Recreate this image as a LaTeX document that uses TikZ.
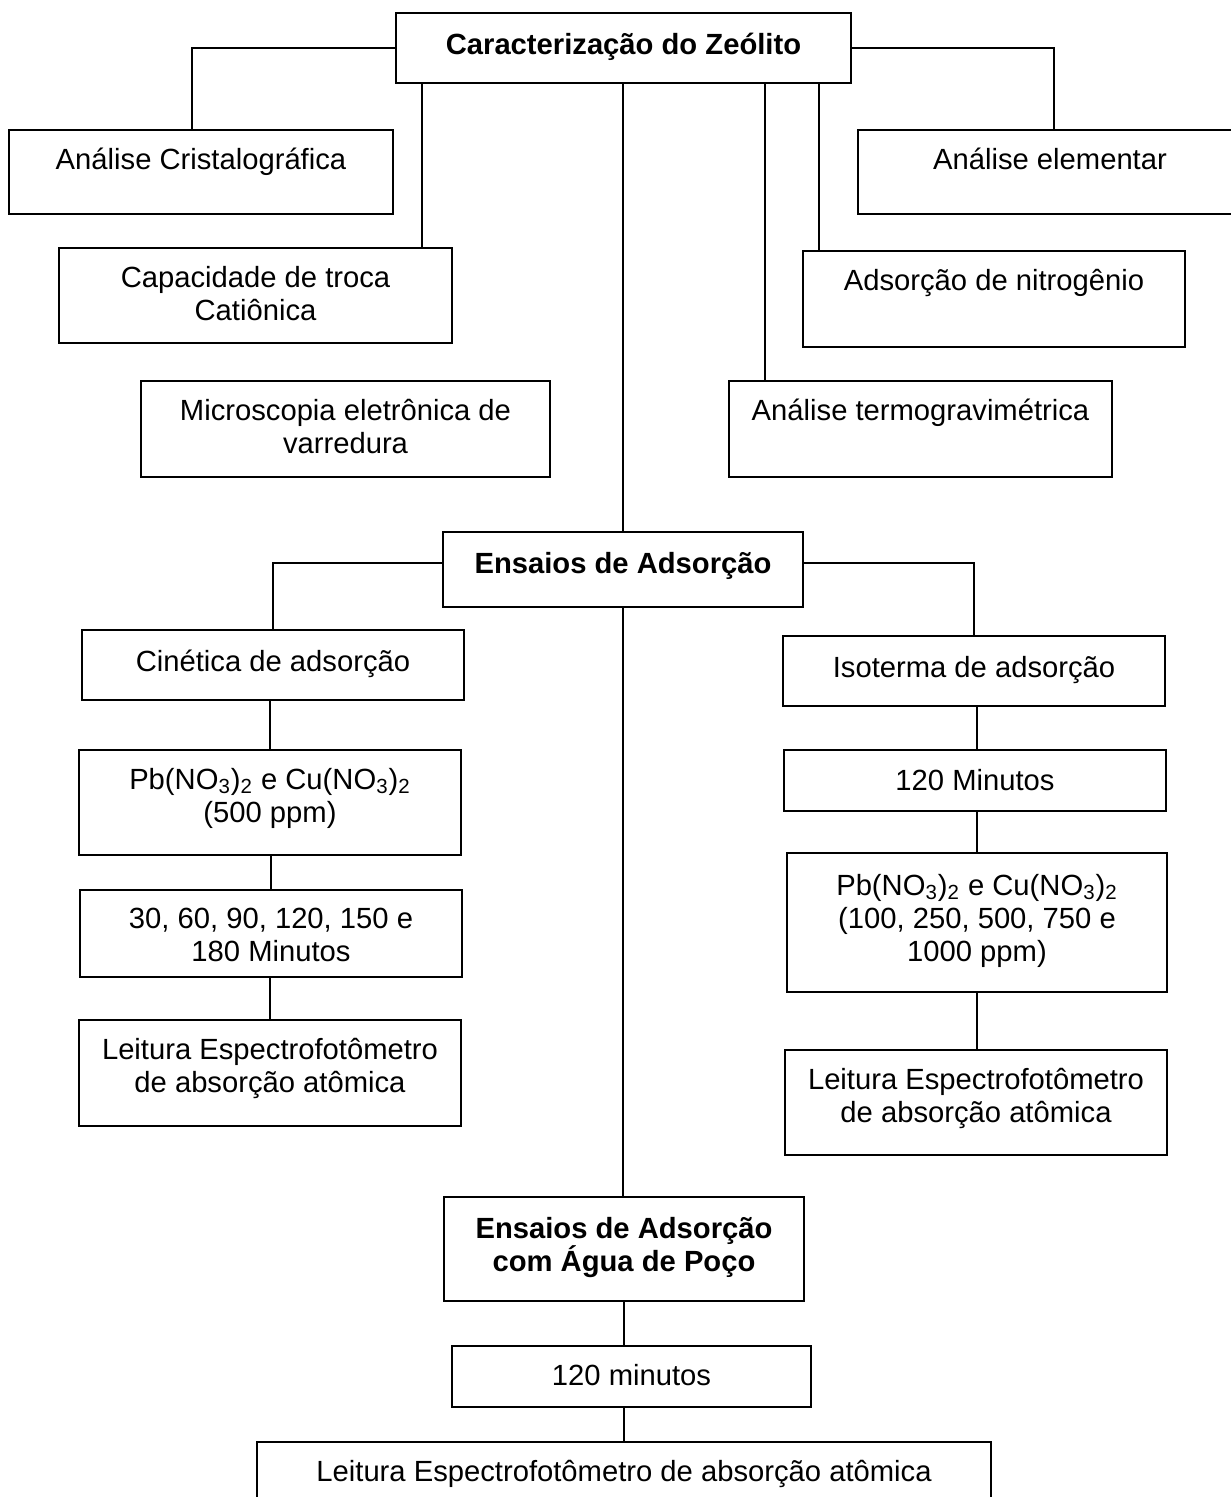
\documentclass[tikz,border=0pt]{standalone}
\usepackage{fontspec}
\setmainfont{Liberation Sans}
\usetikzlibrary{fit}
\begin{document}
\begin{tikzpicture}[x=0.5pt,y=-0.5pt,
	caixa/.style={draw,line width=1pt,inner sep=0pt},
	texto/.style={anchor=north,inner sep=0pt,align=center,font=\fontsize{14.6pt}{16.5pt}\selectfont},
	titulo/.style={texto,font=\fontsize{14.6pt}{16.5pt}\selectfont\bfseries},
	linha/.style={line width=0.8pt}]
	\useasboundingbox (0,0) rectangle (1230,1497);
	% caracterizacao
	\node[caixa,fit={(396,13) (851,83)}] (topo) {};
	\node[titulo] (topo-t) at (623.5,33) {Caracterização do Zeólito};
	\node[caixa,fit={(9,130) (393,214)}] (cris) {};
	\node[texto] (cris-t) at (201,148) {Análise Cristalográfica};
	\node[caixa,fit={(59,248) (452,343)}] (cap) {};
	\node[texto] (cap-t) at (255.5,266) {Capacidade de troca\\Catiônica};
	\node[caixa,fit={(141,381) (550,477)}] (mev) {};
	\node[texto] (mev-t) at (345.5,399) {Microscopia eletrônica de\\varredura};
	\node[caixa,fit={(858,130) (1232,214)}] (elem) {};
	\node[texto] (elem-t) at (1050,148) {Análise elementar};
	\node[caixa,fit={(803,251) (1185,347)}] (nit) {};
	\node[texto] (nit-t) at (994,269) {Adsorção de nitrogênio};
	\node[caixa,fit={(729,381) (1112,477)}] (termo) {};
	\node[texto] (termo-t) at (920.5,399) {Análise termogravimétrica};
	% ensaios
	\node[caixa,fit={(443,532) (803,607)}] (ens) {};
	\node[titulo] (ens-t) at (623,552) {Ensaios de Adsorção};
	\node[caixa,fit={(82,630) (464,700)}] (cin) {};
	\node[texto] (cin-t) at (273,650) {Cinética de adsorção};
	\node[caixa,fit={(79,750) (461,855)}] (pbe) {};
	\node[texto] (pbe-t) at (270,768) {Pb(NO\textsubscript{3})\textsubscript{2} e Cu(NO\textsubscript{3})\textsubscript{2}\\(500 ppm)};
	\node[caixa,fit={(80,890) (462,977)}] (tempos) {};
	\node[texto] (tempos-t) at (271,908) {30, 60, 90, 120, 150 e\\180 Minutos};
	\node[caixa,fit={(79,1020) (461,1126)}] (leie) {};
	\node[texto] (leie-t) at (270,1038) {Leitura Espectrofotômetro\\de absorção atômica};
	\node[caixa,fit={(783,636) (1165,706)}] (iso) {};
	\node[texto] (iso-t) at (974,656) {Isoterma de adsorção};
	\node[caixa,fit={(784,750) (1166,811)}] (min) {};
	\node[texto] (min-t) at (975,769) {120 Minutos};
	\node[caixa,fit={(787,853) (1167,992)}] (pbd) {};
	\node[texto] (pbd-t) at (977,874) {Pb(NO\textsubscript{3})\textsubscript{2} e Cu(NO\textsubscript{3})\textsubscript{2}\\(100, 250, 500, 750 e\\1000 ppm)};
	\node[caixa,fit={(785,1050) (1167,1155)}] (leid) {};
	\node[texto] (leid-t) at (976,1068) {Leitura Espectrofotômetro\\de absorção atômica};
	% agua de poco
	\node[caixa,fit={(444,1197) (804,1301)}] (agua) {};
	\node[titulo] (agua-t) at (624,1217) {Ensaios de Adsorção\\com Água de Poço};
	\node[caixa,fit={(452,1346) (811,1407)}] (m120) {};
	\node[texto] (m120-t) at (631.5,1364) {120 minutos};
	\node[caixa,fit={(257,1442) (991,1530)}] (leifin) {};
	\node[texto] (leifin-t) at (624,1460) {Leitura Espectrofotômetro de absorção atômica};
	% ligacoes
	\draw[linha] (topo.west) -| ([xshift=-4.5pt]cris.north);
	\draw[linha] ([xshift=13.5pt]topo.south west) -- ([xshift=13.5pt]topo.south west |- cap.north);
	\draw[linha] (ens.north |- topo.south) -- (ens.north);
	\draw[linha] ([xshift=-43.5pt]topo.south east) -- ([xshift=-43.5pt]topo.south east |- termo.north);
	\draw[linha] ([xshift=-16.5pt]topo.south east) -- ([xshift=-16.5pt]topo.south east |- nit.north);
	\draw[linha] (topo.east) -| ([xshift=4.5pt]elem.north);
	\draw[linha] ([yshift=3.25pt]ens.west) -| (cin.north);
	\draw[linha] ([yshift=3.25pt]ens.east) -| (iso.north);
	\draw[linha] (ens.south) -- (ens.south |- agua.north);
	\draw[linha] (pbe.north |- cin.south) -- (pbe.north);
	\draw[linha] (tempos.north |- pbe.south) -- (tempos.north);
	\draw[linha] (leie.north |- tempos.south) -- (leie.north);
	\draw[linha] (pbd.north |- iso.south) -- (pbd.north |- min.north);
	\draw[linha] (pbd.north |- min.south) -- (pbd.north);
	\draw[linha] (pbd.south) -- (pbd.south |- leid.north);
	\draw[linha] (agua.south) -- (agua.south |- m120.north);
	\draw[linha] (agua.south |- m120.south) -- (agua.south |- leifin.north);
\end{tikzpicture}
\end{document}
